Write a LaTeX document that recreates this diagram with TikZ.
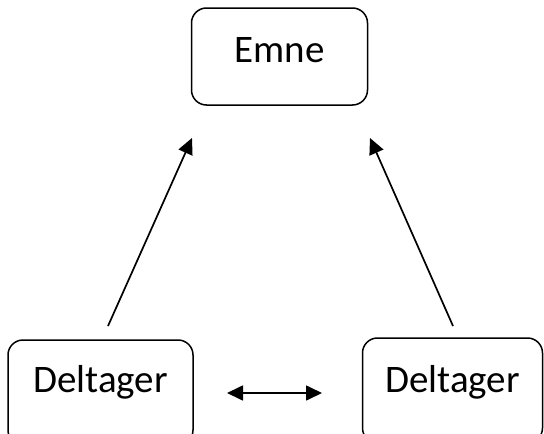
\documentclass[tikz,border=0pt]{standalone}
\usepackage{fontspec}
\setmainfont{Carlito}
\usetikzlibrary{arrows.meta}

\begin{document}
\begin{tikzpicture}[x=1pt,y=-1pt,
    item/.style ={draw, line width=1.5pt, rounded corners=15pt, inner sep=0pt,
                  font=\fontsize{39}{39}\selectfont, anchor=base},
    link/.style ={line width=1.7pt, arrows={-Triangle[length=16pt,width=15pt]}}]
   \useasboundingbox (0,0) rectangle (544,434);
   \clip (0,0) rectangle (544,434);
   \node[item, minimum width=176pt, text height=54pt, text depth=43pt] (emne) at (279.5,62) {Emne};
   \node[item, minimum width=185pt, text height=52pt, text depth=53pt] (dl) at (100.5,392) {Deltager};
   \node[item, minimum width=180pt, text height=54pt, text depth=51pt] (dr) at (452.5,392) {Deltager};
   \coordinate (dl top) at (108,326);
   \coordinate (emne left) at (192,138);
   \coordinate (dr top) at (453,326);
   \coordinate (emne right) at (370,138);
   \coordinate (dl side) at (227,393);
   \coordinate (dr side) at (322,393);
   \draw[link] (dl top) to (emne left);
   \draw[link] (dr top) to (emne right);
   \draw[link, arrows={Triangle[length=16pt,width=15pt]-Triangle[length=16pt,width=15pt]}] (dl side) to (dr side);
 \end{tikzpicture}
\end{document}
